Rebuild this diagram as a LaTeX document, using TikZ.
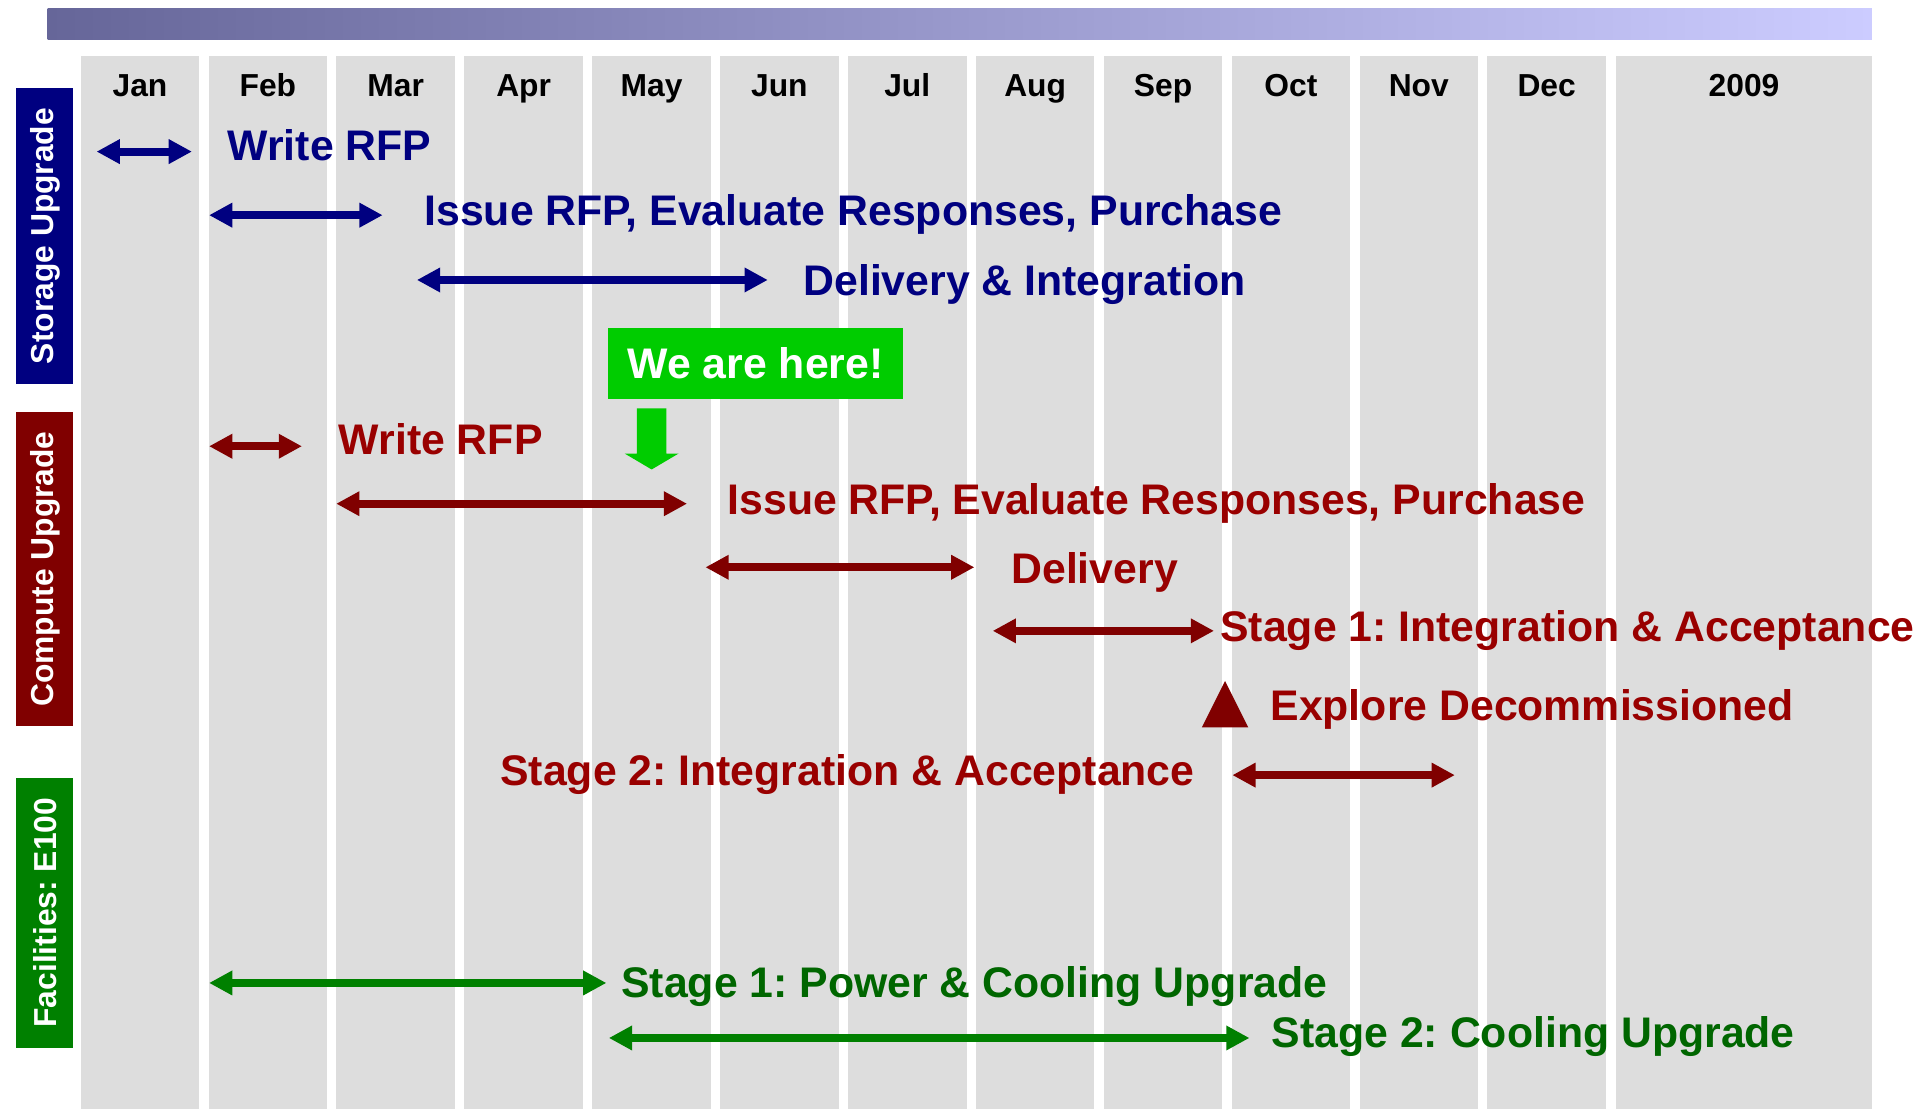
\documentclass[tikz,border=0pt]{standalone}
\usepackage{fontspec}
\setmainfont{Liberation Sans}
\usetikzlibrary{arrows.meta}
\frenchspacing
\definecolor{navyc}{HTML}{000080}
\definecolor{redarr}{HTML}{800000}
\definecolor{redtxt}{HTML}{990000}
\definecolor{grnarr}{HTML}{008000}
\definecolor{grntxt}{HTML}{006600}
\definecolor{hereg}{HTML}{00CC00}
\definecolor{colgray}{HTML}{DDDDDD}
\definecolor{barL}{HTML}{666699}
\definecolor{barR}{HTML}{CCCCFF}
\tikzset{
  span/.style={line width=6.5pt, {Triangle[length=19pt,width=19pt]}-{Triangle[length=19pt,width=19pt]}},
  lbl/.style={anchor=base west, inner sep=0pt, font=\fontsize{35}{40}\selectfont\bfseries},
  month/.style={anchor=base, inner sep=0pt, font=\fontsize{26}{30}\selectfont\bfseries},
  rowlab/.style={rotate=90, text=white, inner sep=0pt, font=\fontsize{26}{30}\selectfont\bfseries}
}
\begin{document}
\frenchspacing
\begin{tikzpicture}[x=1pt,y=-1pt]
\useasboundingbox (0,0) rectangle (1568,907);
% top bar
\shade[left color=barL, right color=barR] (39,7) rectangle (1531,32);
% columns
\foreach \i/\m in {0/Jan,1/Feb,2/Mar,3/Apr,4/May,5/Jun,6/Jul,7/Aug,8/Sep,9/Oct,10/Nov,11/Dec}{
  \fill[colgray] ({66+104.6*\i},46) rectangle ({163+104.6*\i},907);
  \node[month] (m\i) at ({114.5+104.6*\i},79.3) {\m};
}
\fill[colgray] (1322,46) rectangle (1531,907);
\node[month] (m12) at (1426.5,79.3) {2009};
% row labels
\fill[navyc] (13,72) rectangle (60,314);
\node[rowlab] (rs) at (37,193) {Storage Upgrade};
\fill[redarr] (13,337) rectangle (60,594);
\node[rowlab] (rc) at (37,465.5) {Compute Upgrade};
\fill[grnarr] (13,636) rectangle (60,857);
\node[rowlab] (rf) at (37,746.5) {Facilities:\ E100};
% storage
\coordinate (a1s) at (79,124); \coordinate (a1e) at (157,124);
\draw[span, navyc] (a1s) -- (a1e);
\node[lbl, text=navyc] (t1) at (186,131.5) {Write RFP};
\coordinate (a2s) at (171,176); \coordinate (a2e) at (313,176);
\draw[span, navyc] (a2s) -- (a2e);
\node[lbl, text=navyc] (t2) at (347,184.5) {Issue RFP, Evaluate Responses, Purchase};
\coordinate (a3s) at (341,229); \coordinate (a3e) at (628,229);
\draw[span, navyc] (a3s) -- (a3e);
\node[lbl, text=navyc] (t3) at (657,241.5) {Delivery \& Integration};
% we are here
\node[fill=hereg, text=white, minimum width=242pt, minimum height=58pt, inner sep=0pt,
      font=\fontsize{35}{40}\selectfont\bfseries] (here) at (618,297) {We are here!};
\fill[hereg] (521,334) -- (545,334) -- (545,371) -- (555,371) -- (533,384) -- (511,371) -- (521,371) -- cycle;
% compute
\coordinate (b1s) at (171,365); \coordinate (b1e) at (247,365);
\draw[span, redarr] (b1s) -- (b1e);
\node[lbl, text=redtxt] (u1) at (277,371.5) {Write RFP};
\coordinate (b2s) at (275,412); \coordinate (b2e) at (562,412);
\draw[span, redarr] (b2s) -- (b2e);
\node[lbl, text=redtxt] (u2) at (595,420.5) {Issue RFP, Evaluate Responses, Purchase};
\coordinate (b3s) at (577,464); \coordinate (b3e) at (797,464);
\draw[span, redarr] (b3s) -- (b3e);
\node[lbl, text=redtxt] (u3) at (827,477.5) {Delivery};
\coordinate (b4s) at (812,516); \coordinate (b4e) at (993,516);
\draw[span, redarr] (b4s) -- (b4e);
\node[lbl, text=redtxt] (u4) at (998,524.5) {Stage 1: Integration \& Acceptance};
\fill[redarr] (1002,557) -- (1021,595) -- (983,595) -- cycle;
\node[lbl, text=redtxt] (u5) at (1039,589.5) {Explore Decommissioned};
\node[lbl, text=redtxt] (u6) at (409,642.5) {Stage 2: Integration \& Acceptance};
\coordinate (b6s) at (1008,634); \coordinate (b6e) at (1190,634);
\draw[span, redarr] (b6s) -- (b6e);
% facilities
\coordinate (c1s) at (171,804); \coordinate (c1e) at (496,804);
\draw[span, grnarr] (c1s) -- (c1e);
\node[lbl, text=grntxt] (v1) at (508,815.5) {Stage 1: Power \& Cooling Upgrade};
\coordinate (c2s) at (498,849); \coordinate (c2e) at (1022,849);
\draw[span, grnarr] (c2s) -- (c2e);
\node[lbl, text=grntxt] (v2) at (1040,856.5) {Stage 2: Cooling Upgrade};
\end{tikzpicture}
\end{document}
